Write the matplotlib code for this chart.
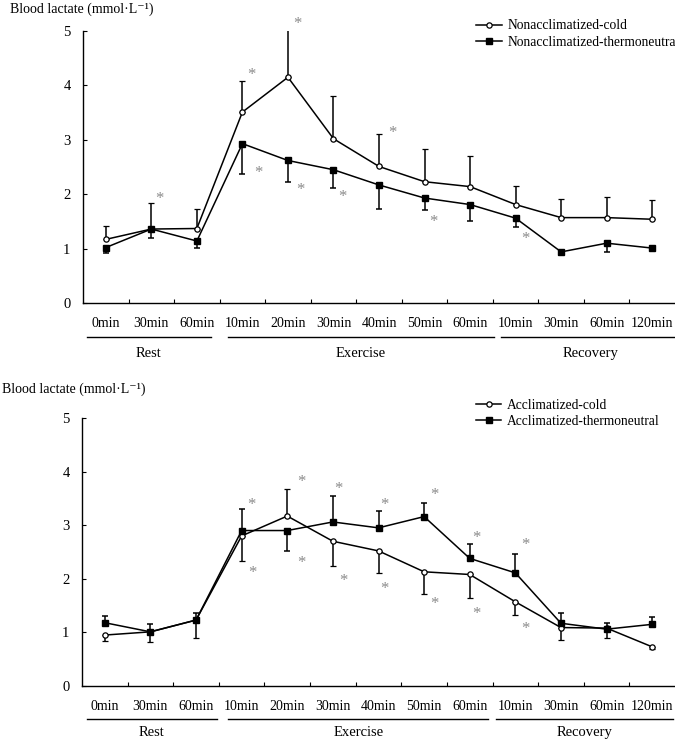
import matplotlib
matplotlib.use("Agg")
import matplotlib.pyplot as plt
from matplotlib.lines import Line2D

plt.rcParams["font.family"] = ["Liberation Serif", "DejaVu Serif"]
plt.rcParams["mathtext.fontset"] = "custom"
plt.rcParams["mathtext.rm"] = "Liberation Serif"

# ==========================================
# DATA
# ==========================================

time_labels = ["0min", "30min", "60min", "10min", "20min", "30min", "40min",
               "50min", "60min", "10min", "30min", "60min", "120min"]
phase_names = ["Rest", "Exercise", "Recovery"]

# nonacclimatized (top)
nac_cold = [1.17, 1.36, 1.37, 3.51, 4.15, 3.02, 2.51, 2.23, 2.14, 1.81, 1.57, 1.57, 1.54]
nac_cold_up = [0.24, 0.48, 0.36, 0.57, 0.95, 0.79, 0.59, 0.60, 0.57, 0.34, 0.34, 0.38, 0.36]
nac_thermo = [1.02, 1.36, 1.14, 2.93, 2.62, 2.45, 2.17, 1.93, 1.81, 1.56, 0.94, 1.10, 1.01]
nac_thermo_lo = [0.10, 0.17, 0.13, 0.56, 0.40, 0.34, 0.44, 0.22, 0.31, 0.16, 0.05, 0.16, 0.04]
nac_star_x = [1.17, 3.19, 4.20, 6.30, 3.35, 4.27, 5.20, 7.20, 9.21]
nac_star_y = [1.97, 4.25, 5.20, 3.19, 2.45, 2.15, 2.01, 1.55, 1.24]

# acclimatized (bottom)
ac_cold = [0.95, 1.01, 1.23, 2.80, 3.17, 2.70, 2.52, 2.13, 2.08, 1.57, 1.09, 1.08, 0.73]
ac_cold_lo = [0.12, 0.19, 0.33, 0.46, 0, 0.46, 0.42, 0.41, 0.44, 0.25, 0.23, 0.19, 0.04]
ac_cold_up = [0, 0, 0, 0, 0.50, 0, 0, 0, 0, 0, 0, 0, 0]
ac_thermo = [1.18, 1.01, 1.23, 2.90, 2.90, 3.06, 2.95, 3.16, 2.38, 2.11, 1.17, 1.06, 1.15]
ac_thermo_up = [0.12, 0.15, 0.13, 0.40, 0, 0.48, 0.31, 0.26, 0.26, 0.36, 0.19, 0.12, 0.13]
ac_thermo_lo = [0, 0, 0, 0, 0.38, 0, 0, 0, 0, 0, 0, 0, 0]
ac_star_x = [3.22, 3.24, 4.32, 4.30, 5.13, 5.22, 6.13, 6.12, 7.22, 7.22, 8.15, 8.15, 9.23, 9.23]
ac_star_y = [3.45, 2.18, 3.88, 2.37, 3.74, 2.03, 3.44, 1.88, 3.63, 1.59, 2.82, 1.42, 2.69, 1.14]

YLABEL = "Blood lactate (mmol·L\u207b\u00b9)"


def draw_panel(ax, cold, cold_err, thermo, thermo_err, names,
               star_x, star_y, spans, line_y, text_y, legend_y):

    x = list(range(len(time_labels)))

    c = ax.errorbar(x, cold, yerr=cold_err, color="black", lw=1.1,
                    marker="o", ms=3.8, mfc="white", mec="black", mew=0.9,
                    elinewidth=1.1, capsize=2.4, capthick=1.1, zorder=3)
    t = ax.errorbar(x, thermo, yerr=thermo_err, color="black", lw=1.1,
                    marker="s", ms=5, mfc="black", mec="black",
                    elinewidth=1.1, capsize=2.4, capthick=1.1, zorder=4)

    for sx, sy in zip(star_x, star_y):
        ax.annotate("*", (sx, sy), xytext=(0, -5.5), textcoords="offset points",
                    ha="center", va="baseline", fontsize=12,
                    color="#8a8a8a", annotation_clip=False)

    ax.set_xlim(-0.5, len(x) - 0.5)
    ax.set_ylim(0, 5)
    ax.set_yticks(range(6))
    ax.set_xticks(x)
    ax.set_xticklabels(time_labels)
    ax.set_xticks([i - 0.5 for i in range(1, len(x))], minor=True)
    ax.tick_params(axis="x", which="major", length=0, pad=10, labelsize=10)
    ax.tick_params(axis="x", which="minor", direction="in", length=3, width=0.8)
    ax.tick_params(axis="y", direction="in", length=3, width=0.8, pad=9, labelsize=10.5)

    for side in ["top", "right"]:
        ax.spines[side].set_visible(False)
    for side in ["left", "bottom"]:
        ax.spines[side].set_linewidth(1.0)

    # phase brackets under the time labels
    trans = ax.get_xaxis_transform()
    for (x0, x1), name in zip(spans, phase_names):
        ax.add_line(Line2D([x0, x1], [line_y, line_y], transform=trans,
                           color="black", lw=1.0, clip_on=False))
        ax.text((x0 + x1) / 2, text_y, name, transform=trans,
                ha="center", va="center", fontsize=10.5)

    ax.legend([c[0], t[0]], names, loc="upper left",
              bbox_to_anchor=(0.664, legend_y), frameon=False,
              borderpad=0, borderaxespad=0, handlelength=1.9,
              handletextpad=0.4, labelspacing=0.25, numpoints=1,
              fontsize=9.75)


fig = plt.figure(figsize=(6.75, 7.42), dpi=100)

ax1 = fig.add_axes([0.123, 0.5916, 0.877, 0.3666])
draw_panel(ax1, nac_cold, [[0] * 13, nac_cold_up],
           nac_thermo, [nac_thermo_lo, [0] * 13],
           ["Nonacclimatized-cold", "Nonacclimatized-thermoneutral"],
           nac_star_x, nac_star_y,
           [(-0.42, 2.31), (2.69, 8.52), (8.68, 12.6)],
           -0.125, -0.184, 1.043)

ax2 = fig.add_axes([0.1215, 0.0755, 0.8785, 0.3612])
draw_panel(ax2, ac_cold, [ac_cold_lo, ac_cold_up],
           ac_thermo, [ac_thermo_lo, ac_thermo_up],
           ["Acclimatized-cold", "Acclimatized-thermoneutral"],
           ac_star_x, ac_star_y,
           [(-0.40, 2.45), (2.71, 8.40), (8.57, 12.45)],
           -0.123, -0.175, 1.072)

fig.text(10 / 675, 1 - 9 / 742, YLABEL, ha="left", va="center", fontsize=10)
fig.text(2 / 675, 1 - 389 / 742, YLABEL, ha="left", va="center", fontsize=10)

fig.savefig("out.png", dpi=100)
plt.close(fig)
